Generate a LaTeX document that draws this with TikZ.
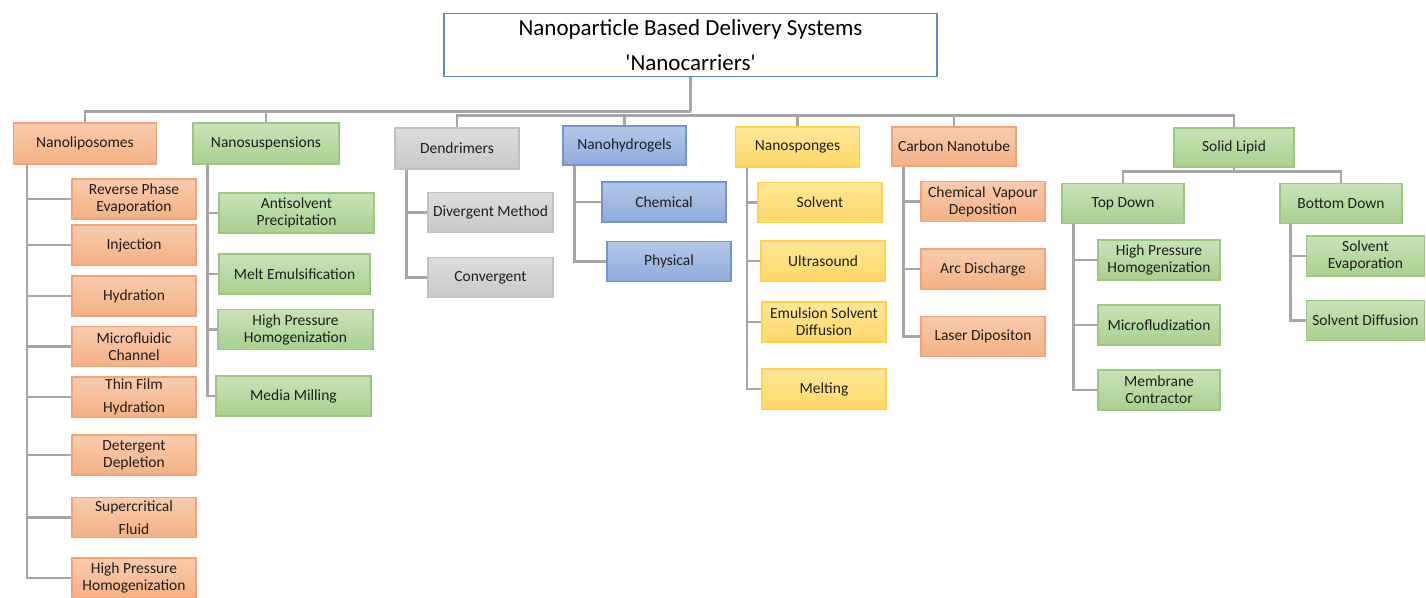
\documentclass[tikz,border=0pt]{standalone}
\usepackage{fontspec}
\setmainfont{Carlito}
\usepackage{tikz}
\usetikzlibrary{positioning}

\definecolor{txt}{HTML}{1F1F1F}
\definecolor{lineC}{HTML}{A6A6A6}
\definecolor{rootD}{HTML}{5B88D6}
\definecolor{orT}{HTML}{F8CBAD}\definecolor{orB}{HTML}{F4B183}\definecolor{orD}{HTML}{F3A27A}
\definecolor{grT}{HTML}{C9E2B8}\definecolor{grB}{HTML}{A9D18E}\definecolor{grD}{HTML}{98C97E}
\definecolor{gyT}{HTML}{DDDDDD}\definecolor{gyB}{HTML}{C8C8C8}\definecolor{gyD}{HTML}{C0C0C0}
\definecolor{blT}{HTML}{B4C7E7}\definecolor{blB}{HTML}{8FAADC}\definecolor{blD}{HTML}{7394D6}
\definecolor{ylT}{HTML}{FFE699}\definecolor{ylB}{HTML}{FFD966}\definecolor{ylD}{HTML}{FFD24D}

\begin{document}
\begin{tikzpicture}[x=1pt, y=-1pt,
  box/.style={draw, line width=1.3pt, minimum width=124pt, minimum height=40pt, inner sep=2pt,
    align=center, text=txt, font=\fontsize{15.5}{17}\selectfont},
  orbox/.style={box, top color=orT, bottom color=orB, draw=orD},
  grbox/.style={box, top color=grT, bottom color=grB, draw=grD},
  gybox/.style={box, top color=gyT, bottom color=gyB, draw=gyD},
  blbox/.style={box, top color=blT, bottom color=blB, draw=blD},
  ylbox/.style={box, top color=ylT, bottom color=ylB, draw=ylD},
  conn/.style={draw=lineC, line width=2.4pt}]
\useasboundingbox (0,0) rectangle (1426,597);

% Root
\node[draw=rootD, line width=1.6pt, fill=white, minimum width=493pt, minimum height=63pt, align=center,
  font=\fontsize{23}{35}\selectfont] (root) at (690.5,45)
  {Nanoparticle Based Delivery Systems\\\textquotesingle Nanocarriers\textquotesingle};

% First level
\node[orbox, minimum width=143pt, minimum height=41pt] (nl) at (85,143.5) {Nanoliposomes};
\node[grbox, minimum width=146pt, minimum height=41pt] (ns) at (266,143.5) {Nanosuspensions};
\node[gybox, minimum height=41pt] (dd) at (457,148.5) {Dendrimers};
\node[blbox, minimum width=123pt, minimum height=39pt] (nh) at (624.5,145.5) {Nanohydrogels};
\node[ylbox] (np) at (797.5,147) {Nanosponges};
\node[orbox, minimum height=39pt] (cn) at (954,146.5) {Carbon Nanotube};
\node[grbox, minimum width=120pt, minimum height=39pt] (sl) at (1234,147.5) {Solid Lipid};

\draw[conn] (root.south) -- ++(0,34) coordinate (hub);
\foreach \n in {nl,ns} \draw[conn] (hub) -| (\n.north);
\foreach \n in {dd,nh,np,cn,sl} \draw[conn] ([yshift=-4pt]hub) -| (\n.north);

% Nanoliposomes
\node[orbox] (rp) at (134,199) {Reverse Phase\\Evaporation};
\node[orbox] (inj) at (134,245) {Injection};
\node[orbox] (hyd) at (134,296) {Hydration};
\node[orbox] (mfc) at (134,346.5) {Microfluidic\\Channel};
\node[orbox] (tfh) at (134,397) {Thin Film\\[6pt]Hydration};
\node[orbox] (ddp) at (134,455) {Detergent\\Depletion};
\node[orbox] (scf) at (134,517.5) {Supercritical\\[6pt]Fluid};
\node[orbox] (hph1) at (134,578) {High Pressure\\Homogenization};
\foreach \c in {rp,inj,hyd,mfc,tfh,ddp,scf,hph1}
  \draw[conn] ([xshift=14pt]nl.south west) |- (\c.west);

% Nanosuspensions
\node[grbox, minimum width=155pt] (ap) at (296.5,213) {Antisolvent\\Precipitation};
\node[grbox, minimum width=151pt] (me) at (294.5,274) {Melt Emulsification};
\node[grbox, minimum width=155pt] (hph2) at (295.5,329.5) {High Pressure\\Homogenization};
\node[grbox, minimum width=155pt] (mm) at (293.5,396) {Media Milling};
\foreach \c in {ap,me,hph2,mm}
  \draw[conn] ([xshift=15pt]ns.south west) |- (\c.west);

% Dendrimers
\node[gybox, minimum width=125pt] (dm) at (490.5,212.5) {Divergent Method};
\node[gybox, minimum width=125pt] (cv) at (490.5,277.5) {Convergent};
\foreach \c in {dm,cv}
  \draw[conn] ([xshift=12pt]dd.south west) |- (\c.west);

% Nanohydrogels
\node[blbox] (ch) at (664,202) {Chemical};
\node[blbox] (ph) at (669,261.5) {Physical};
\foreach \c in {ch,ph}
  \draw[conn] ([xshift=12pt]nh.south west) |- (\c.west);

% Nanosponges
\node[ylbox] (sv) at (820,202.5) {Solvent};
\node[ylbox] (us) at (823,261) {Ultrasound};
\node[ylbox] (esd) at (824,322) {Emulsion Solvent\\Diffusion};
\node[ylbox] (mlt) at (824,389) {Melting};
\foreach \c in {sv,us,esd,mlt}
  \draw[conn] ([xshift=12pt]np.south west) |- (\c.west);

% Carbon Nanotube
\node[orbox] (cvd) at (983,201.5) {Chemical~~Vapour\\Deposition};
\node[orbox] (ad) at (983,269) {Arc Discharge};
\node[orbox] (ld) at (983,336.5) {Laser Dipositon};
\foreach \c in {cvd,ad,ld}
  \draw[conn] ([xshift=12pt]cn.south west) |- (\c.west);

% Solid Lipid
\node[grbox, minimum width=122pt] (td) at (1123,203.5) {Top Down};
\node[grbox, minimum width=122pt] (bd) at (1341,203.5) {Bottom Down};
\draw[conn] (sl.south) -- ++(0,4) coordinate (slhub);
\foreach \n in {td,bd} \draw[conn] (slhub) -| (\n.north);

\node[grbox, minimum width=122pt] (hph3) at (1159,260) {High Pressure\\Homogenization};
\node[grbox, minimum width=122pt] (mfz) at (1159,325) {Microfludization};
\node[grbox, minimum width=122pt] (mbc) at (1159,390) {Membrane\\Contractor};
\foreach \c in {hph3,mfz,mbc}
  \draw[conn] ([xshift=12pt]td.south west) |- (\c.west);

\node[grbox, minimum width=118pt] (sev) at (1365.5,256) {Solvent\\Evaporation};
\node[grbox, minimum width=118pt] (sdf) at (1365.5,320.5) {Solvent Diffusion};
\foreach \c in {sev,sdf}
  \draw[conn] ([xshift=11pt]bd.south west) |- (\c.west);
\end{tikzpicture}
\end{document}
